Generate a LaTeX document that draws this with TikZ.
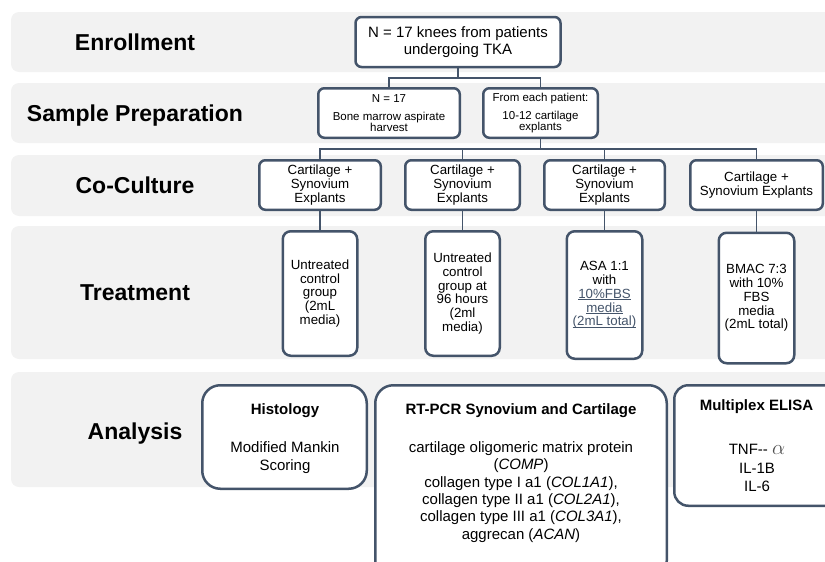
\documentclass[tikz,border=0pt]{standalone}
\usepackage{fontspec}
\setmainfont{Liberation Sans}
\definecolor{boxc}{HTML}{44546A}
\definecolor{bandc}{HTML}{F2F2F2}
\definecolor{linkc}{HTML}{44546A}
\definecolor{alphac}{HTML}{505050}
\newcommand{\lnk}[1]{{\color{linkc}\setbox0\hbox{#1}\rlap{\rule[-1.8pt]{\wd0}{0.9pt}}\box0}}
\begin{document}
\begin{tikzpicture}[x=1pt,y=-1pt,
  band/.style={fill=bandc, draw=none, rounded corners=8pt},
  lbl/.style={font=\fontsize{23}{26}\selectfont\bfseries, text=black, inner sep=0pt, text height=16.5pt, text depth=0pt},
  box/.style={draw=boxc, line width=2.5pt, fill=white, rounded corners=6pt, inner sep=0pt, align=center},
  tbox/.style={box, rounded corners=8pt, font=\fontsize{13.3}{13.8}\selectfont},
  cbox/.style={box, font=\fontsize{13.3}{14}\selectfont},
  abox/.style={box, rounded corners=18pt},
  atxt/.style={inner sep=0pt, align=center, font=\fontsize{15}{17.3}\selectfont},
  ahead/.style={inner sep=0pt, align=center, font=\fontsize{15}{17}\selectfont\bfseries},
  conn/.style={draw=boxc, line width=1.8pt}]
\useasboundingbox (0,0) rectangle (825,562);
\clip (0,0) rectangle (825,562);

% bands
\fill[band] (11,12) rectangle (845,72);
\fill[band] (11,83) rectangle (845,143);
\fill[band] (11,155) rectangle (845,216);
\fill[band] (11,226) rectangle (845,359);
\fill[band] (11,372) rectangle (845,487);

% row labels
\node[lbl] (lenr) at (135,42) {Enrollment};
\node[lbl] (lsp) at (135,113) {Sample Preparation};
\node[lbl] (lcc) at (135,185) {Co-Culture};
\node[lbl] (ltr) at (135,292) {Treatment};
\node[lbl] (lan) at (135,431) {Analysis};

% connectors (drawn first, boxes on top)
\coordinate (j1) at (458,78);
\coordinate (j2) at (540.5,149);
\coordinate (enrS) at (458,66);
\coordinate (sp1N) at (389,88);
\coordinate (sp2N) at (540.5,88);
\coordinate (sp2S) at (540.5,138);
\draw[conn] (enrS) -- (j1);
\draw[conn] (j1) -| (sp1N);
\draw[conn] (j1) -| (sp2N);
\draw[conn] (sp2S) -- (j2);
\coordinate (c1N) at (320,160);
\coordinate (c2N) at (462.5,160);
\coordinate (c3N) at (604.5,160);
\coordinate (c4N) at (756.5,160);
\draw[conn] (j2) -| (c1N);
\draw[conn] (j2) -| (c2N);
\draw[conn] (j2) -| (c3N);
\draw[conn] (j2) -| (c4N);

% enrollment
\node[box, minimum width=205pt, minimum height=50pt, font=\fontsize{15}{17}\selectfont] (enr) at (458,42)
  {N = 17 knees from patients\\undergoing TKA};

% sample preparation
\node[box, minimum width=141.5pt, minimum height=49.5pt, font=\fontsize{11.5}{11}\selectfont] (sp1) at (389,113)
  {N = 17\\[7pt]Bone marrow aspirate\\harvest};
\node[box, minimum width=114.5pt, minimum height=49.5pt, font=\fontsize{11.5}{11}\selectfont] (sp2) at (540.5,113)
  {From each patient:\\[7pt]10-12 cartilage\\explants};

% co-culture
\node[cbox, minimum width=121.5pt, minimum height=49.5pt] (cc1) at (320,185) {Cartilage +\\Synovium\\Explants};
\node[cbox, minimum width=114.5pt, minimum height=49.5pt] (cc2) at (462.5,185) {Cartilage +\\Synovium\\Explants};
\node[cbox, minimum width=120.5pt, minimum height=49.5pt] (cc3) at (604.5,185) {Cartilage +\\Synovium\\Explants};
\node[cbox, minimum width=132.5pt, minimum height=49.5pt] (cc4) at (756.5,185) {Cartilage +\\Synovium Explants};

% treatment
\node[tbox, minimum width=74.5pt, minimum height=124.5pt] (t1) at (320,293.5)
  {Untreated\\control\\group\\(2mL\\media)};
\node[tbox, minimum width=74.5pt, minimum height=124.5pt] (t2) at (462.5,293.5)
  {Untreated\\control\\group at\\96 hours\\(2ml\\media)};
\node[tbox, minimum width=75.5pt, minimum height=127.5pt] (t3) at (604.5,295)
  {ASA 1:1\\with\\\lnk{10\%FBS}\\\lnk{media}\\\lnk{(2mL total)}};
\node[tbox, minimum width=75.5pt, minimum height=130.5pt] (t4) at (756.5,298)
  {BMAC 7:3\\with 10\%\\FBS\\media\\(2mL total)};

\foreach \i in {1,2,3,4}{\draw[conn] (cc\i.south) -- (t\i.north);}

% analysis
\node[abox, minimum width=164.5pt, minimum height=103.5pt] (hist) at (284.5,437) {};
\node[abox, minimum width=291.5pt, minimum height=193.5pt] (rt) at (521,482) {};
\node[abox, rounded corners=14pt, minimum width=174.5pt, minimum height=120.5pt] (mp) at (761.5,445.5) {};

\node[ahead] (histh) at (285,411) {Histology};
\node[atxt, font=\fontsize{15}{18}\selectfont] (histb) at (285,458) {Modified Mankin\\Scoring};

\node[ahead] (rth) at (521,411) {RT-PCR Synovium and Cartilage};
\node[atxt] (rtb) at (521,492)
  {cartilage oligomeric matrix protein\\(\textit{COMP})\\collagen type I a1 (\textit{COL1A1}),\\collagen type II a1 (\textit{COL2A1}),\\collagen type III a1 (\textit{COL3A1}),\\aggrecan (\textit{ACAN})};

\node[ahead] (mph) at (756.5,407) {Multiplex ELISA};
\node[atxt, font=\fontsize{15}{18.5}\selectfont] (mpb) at (757,468)
  {TNF-{}- {\color{alphac}\fontsize{22}{18}\selectfont$\alpha$}\\IL-1B\\IL-6};
\end{tikzpicture}
\end{document}
